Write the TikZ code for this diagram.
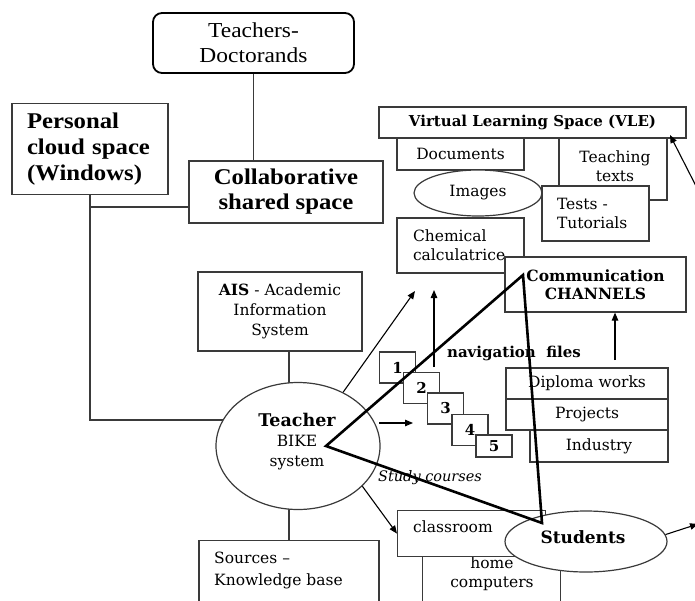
\documentclass[tikz,border=0pt]{standalone}
\usepackage{fontspec}
\setmainfont{DejaVu Serif}
\newfontfamily\tnr{Liberation Serif}[FakeStretch=1.1]
\usetikzlibrary{arrows.meta,shapes.geometric,backgrounds}
\definecolor{lc}{HTML}{3A3A3A}
\begin{document}
\begin{tikzpicture}[x=1pt,y=-1pt,
  box/.style={draw=lc, line width=1.2pt, fill=white, inner sep=0pt, rectangle},
  oval/.style={draw=lc, line width=1.2pt, fill=white, inner sep=0pt, ellipse},
  txt/.style={inner sep=0pt, align=center, font=\fontsize{15.5}{19}\selectfont},
  numbox/.style={box, minimum width=36pt, minimum height=31pt, font=\bfseries\fontsize{15}{18}\selectfont},
  link/.style={draw=lc, line width=1.2pt},
  arr/.style={draw=black, line width=1.1pt, -{Triangle[length=8pt,width=6.5pt]}},
  tri/.style={draw=black, line width=2.6pt, line join=miter}]

\useasboundingbox (0,0) rectangle (695,600);
\clip (0,0) rectangle (695,600);

% top of the hierarchy
\node[box, draw=black, line width=1.8pt, rounded corners=9pt, minimum width=201pt, minimum height=60pt,
      align=center, font=\tnr\fontsize{21.3}{25}\selectfont] (teachers) at (253.5,43) {Teachers-\\Doctorands};
\node[box, minimum width=156pt, minimum height=91pt, text width=126pt, align=left,
      font=\tnr\bfseries\fontsize{22.5}{26}\selectfont] (personal) at (90,149) {Personal\\cloud space\\(Windows)};
\node[box, minimum width=194pt, minimum height=62pt, align=center,
      font=\tnr\bfseries\fontsize{22.5}{25}\selectfont] (collab) at (286,192) {Collaborative\\shared space};

% virtual learning environment
\node[box, minimum width=307pt, minimum height=31pt, font=\bfseries\fontsize{15}{18}\selectfont] (vle) at (532.5,122.5) {Virtual Learning Space (VLE)};
\node[box, minimum width=127pt, minimum height=32pt, txt] (documents) at (460.5,154) {Documents};
\node[box, minimum width=108pt, minimum height=62pt, txt] (teaching) at (613,169) {};
\node[txt] (teachingText) at (615,166) {Teaching\\texts};
\node[oval, minimum width=128pt, minimum height=46pt, txt] (images) at (478,193) {Images};
\node[box, minimum width=107pt, minimum height=55pt, text width=77pt, align=left,
      font=\fontsize{15.5}{19}\selectfont] (tests) at (595.5,213.5) {Tests -\\Tutorials};
\node[box, minimum width=127pt, minimum height=55pt, text width=95pt, align=left,
      font=\fontsize{15.5}{19}\selectfont] (chem) at (460.5,245.5) {Chemical\\calculatrice};
\node[box, minimum width=181pt, minimum height=55pt, align=center,
      font=\bfseries\fontsize{15.5}{18.5}\selectfont] (comm) at (595.5,284.5) {Communication\\CHANNELS};

% student work
\node[box, minimum width=162pt, minimum height=31pt, txt] (diploma) at (587,383.5) {Diploma works};
\node[box, minimum width=162pt, minimum height=31pt, txt] (projects) at (587,414.5) {Projects};
\node[box, minimum width=138pt, minimum height=32pt, txt] (industry) at (599,446) {Industry};

% navigation files
\node[inner sep=0pt, font=\bfseries\fontsize{15}{18}\selectfont] (navlabel) at (514,353) {navigation\ \ files};
\node[numbox] (n1) at (397.5,367.5) {1};
\node[numbox] (n2) at (421.5,388) {2};
\node[numbox] (n3) at (445.5,408.5) {3};
\node[numbox] (n4) at (470,430) {4};
\node[numbox, minimum height=22pt] (n5) at (494,446) {5};
\node[inner sep=0pt, font=\itshape\fontsize{14.5}{17}\selectfont] (study) at (430,478) {Study courses};

% teacher and neighbours
\node[oval, minimum width=164pt, minimum height=127pt] (teacher) at (298,446) {};
\node[txt] (teacherText) at (297,442) {{\bfseries\fontsize{17.5}{21}\selectfont Teacher}\\[1pt]BIKE\\[1pt]system};
\node[box, minimum width=164pt, minimum height=79pt, txt] (ais) at (280,311.5) {{\bfseries AIS} - Academic\\[1pt]Information\\[1pt]System};
\node[box, minimum width=180pt, minimum height=80pt, anchor=north] (sources) at (289,540) {};
\node[txt, align=left, anchor=north west] (sourcesText) at (214,552) {Sources –\\[3pt]Knowledge base};

% places of study
\node[box, minimum width=138pt, minimum height=64pt, anchor=north west] (home) at (422,556) {};
\node[txt] (homeText) at (492,573.5) {home\\computers};
\node[box, minimum width=148pt, minimum height=46pt, anchor=north west] (classroom) at (397,510) {};
\node[txt] (classroomText) at (453,527) {classroom};
\node[oval, minimum width=162pt, minimum height=61pt] (students) at (586,541.5) {};
\node[inner sep=0pt, font=\bfseries\fontsize{17}{20}\selectfont] (studentsText) at (583,537) {Students};

% helper points
\coordinate (j1) at (90,207);
\coordinate (jv) at (90,420);
\coordinate (x289) at (289,0);
\coordinate (up0) at (434,367);
\coordinate (up1) at (434,290);
\coordinate (h0) at (379,423);
\coordinate (h1) at (413,423);
\coordinate (d1) at (415,291);
\coordinate (c0) at (615,360);
\coordinate (out1) at (698,524);
\coordinate (in0) at (698,190);
\coordinate (in1) at (670,135);
\coordinate (t1) at (326,446);
\coordinate (t2) at (523,275);
\coordinate (t3) at (542,523);

\begin{scope}[on background layer]
  \draw[link] (teachers.south) -- (teachers.south |- collab.north);
  \draw[link] (personal.south) -- (jv) -- (teacher.center |- jv);
  \draw[link] (j1) -- (collab.west |- j1);
  \draw[link] (ais.south -| x289) -- (teacher.center -| x289);
  \draw[link] (teacher.center -| x289) -- (sources.north -| x289);
\end{scope}

% arrows
\draw[arr] (teacher.50) -- (d1);
\draw[arr] (up0) -- (up1);
\draw[arr] (h0) -- (h1);
\draw[arr] (teacher.-32) -- (classroom.west);
\draw[arr] (c0) -- (comm.south -| c0);
\draw[arr] (students.5) -- (out1);
\draw[arr] (in0) -- (in1);

% triangle of communication
\draw[tri] (t1) -- (t2) -- (t3) -- cycle;
\end{tikzpicture}
\end{document}
